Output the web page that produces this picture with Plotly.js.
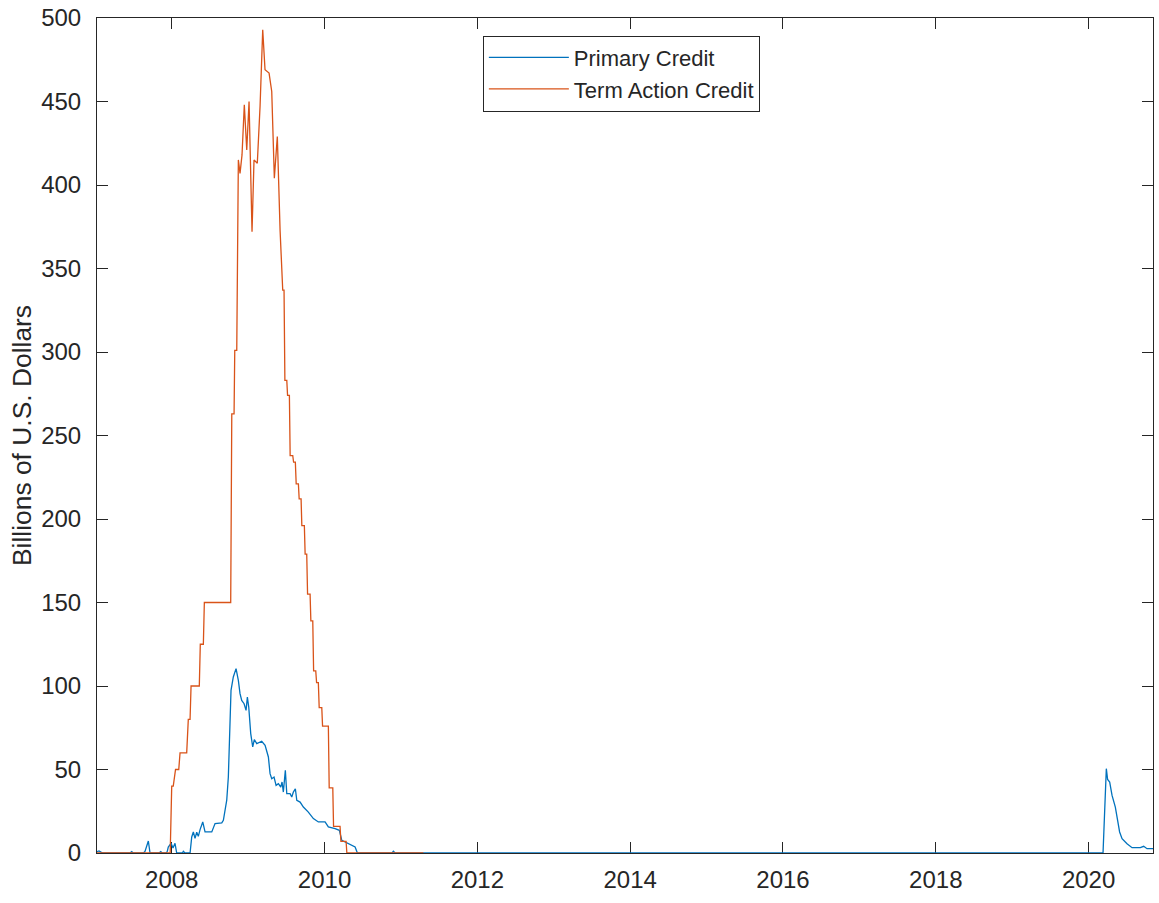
<!DOCTYPE html>
<html>
<head>
<meta charset="utf-8">
<script src="https://cdn.plot.ly/plotly-3.0.1.min.js"></script>
<style>
  html, body { margin: 0; padding: 0; background: #ffffff; }
  #chart { width: 1159px; height: 903px; }
</style>
</head>
<body>
<div id="chart"></div>
<script>
// ---- Data (decimal years, billions of U.S. dollars) ----
const seriesNames = ["Primary Credit", "Term Action Credit"];

const primaryYears = [
  2007.022, 2007.048, 2007.074, 2007.101,
  2007.454, 2007.476, 2007.498,
  2007.630, 2007.650, 2007.694, 2007.716,
  2007.834, 2007.856, 2007.878,
  2007.930, 2007.942, 2007.955, 2007.991, 2008.017, 2008.043, 2008.065,
  2008.140, 2008.152, 2008.174,
  2008.240, 2008.262, 2008.283, 2008.305, 2008.327, 2008.348, 2008.371, 2008.406, 2008.436, 2008.524,
  2008.567, 2008.655, 2008.676, 2008.720, 2008.741, 2008.763, 2008.776, 2008.806, 2008.842, 2008.872,
  2008.894, 2008.916, 2008.947, 2008.973, 2008.990, 2009.008, 2009.034, 2009.060, 2009.081, 2009.113,
  2009.178, 2009.222, 2009.265, 2009.287, 2009.309, 2009.339, 2009.366, 2009.396, 2009.427, 2009.444,
  2009.461, 2009.487, 2009.506, 2009.549, 2009.571, 2009.592, 2009.618, 2009.637, 2009.680, 2009.723,
  2009.788, 2009.854, 2009.919, 2010.007, 2010.050, 2010.138, 2010.194, 2010.226, 2010.291, 2010.357,
  2010.400, 2010.430, 2010.884, 2010.901, 2010.924,
  2020.189, 2020.232, 2020.249, 2020.276, 2020.307, 2020.350, 2020.380, 2020.406, 2020.438, 2020.503,
  2020.569, 2020.677, 2020.721, 2020.765, 2020.843
];
const primaryValues = [
  0.8, 1.2, 0.5, 0,
  0, 0.8, 0,
  0, 1, 7.2, 0,
  0, 0.8, 0,
  0, 1, 3.6, 5.8, 3, 5.8, 0,
  0, 1, 0,
  0, 9.6, 12.6, 8.8, 12.4, 10, 14, 18.6, 12.6, 12.6,
  17.6, 18, 19.6, 31.6, 45.5, 71.5, 97.4, 105.4, 110.4, 103.4,
  95.4, 91.4, 89.4, 85.4, 93.4, 87.4, 71.5, 63.5, 67.9, 65.5,
  66.9, 64.5, 57.5, 47.5, 44.5, 45.5, 40.5, 41.5, 39.5, 42.5,
  36.5, 49.5, 35.5, 35.5, 33.5, 36.5, 38.5, 31.6, 30.5, 27.5,
  24.5, 20.6, 18.6, 18.6, 15.6, 14.6, 13.6, 7.6, 6, 4.6,
  3.6, 0, 0, 1, 0,
  0, 50.5, 44, 42.5, 34.5, 27.5, 19.6, 12.6, 8.6, 5.6,
  3.2, 3.2, 4, 2.6, 2.6
];

const termYears = [
  2007.022, 2007.980, 2008.000, 2008.020, 2008.050, 2008.092, 2008.109, 2008.196, 2008.217, 2008.240,
  2008.253, 2008.361, 2008.374, 2008.414, 2008.427, 2008.772, 2008.786, 2008.816, 2008.825, 2008.851,
  2008.872, 2008.894, 2008.920, 2008.950, 2008.982, 2009.012, 2009.051, 2009.077, 2009.120, 2009.156,
  2009.191, 2009.221, 2009.274, 2009.309, 2009.343, 2009.382, 2009.418, 2009.453, 2009.470, 2009.481,
  2009.506, 2009.516, 2009.540, 2009.550, 2009.584, 2009.595, 2009.618, 2009.629, 2009.658, 2009.668,
  2009.693, 2009.703, 2009.736, 2009.746, 2009.767, 2009.778, 2009.811, 2009.821, 2009.846, 2009.857,
  2009.885, 2009.896, 2009.919, 2009.930, 2009.964, 2009.974, 2010.050, 2010.061, 2010.108, 2010.118,
  2010.203, 2010.214, 2010.282, 2010.292, 2011.294
];
const termValues = [
  0, 0, 40, 40, 50, 50, 60, 60, 80, 80,
  100, 100, 125, 125, 150, 150, 263, 263, 301, 301,
  415, 407, 418, 448, 421, 450, 372, 415, 413, 447,
  493, 469, 467, 456, 404, 429, 373, 337, 337, 283,
  283, 274, 274, 238, 238, 234, 234, 221, 221, 212,
  212, 196, 196, 179, 179, 155, 155, 139, 139, 109,
  109, 102, 102, 87, 87, 76, 76, 39, 39, 16,
  16, 7, 7, 0, 0
];

const yearTicks = [2008, 2010, 2012, 2014, 2016, 2018, 2020];
const yearTickLabels = ["2008", "2010", "2012", "2014", "2016", "2018", "2020"];
const valueTicks = [0, 50, 100, 150, 200, 250, 300, 350, 400, 450, 500];
const valueTickLabels = ["0", "50", "100", "150", "200", "250", "300", "350", "400", "450", "500"];

const xRange = [2007.022, 2020.843];
const yRange = [0, 500];
const yTitle = "Billions of U.S. Dollars";

// ---- Styling ----
const FONT = "'Liberation Sans', Arial, Helvetica, sans-serif";
const TEXT = "#262626";
const AXIS = "#262626";

const traces = [
  {
    x: primaryYears, y: primaryValues, name: seriesNames[0],
    type: "scatter", mode: "lines",
    line: { color: "#0072BD", width: 1.3 }
  },
  {
    x: termYears, y: termValues, name: seriesNames[1],
    type: "scatter", mode: "lines",
    line: { color: "#D95319", width: 1.3 }
  }
];

const axisCommon = {
  showgrid: false,
  zeroline: false,
  showline: true,
  linecolor: AXIS,
  linewidth: 1,
  mirror: "ticks",
  ticks: "inside",
  ticklen: 11,
  tickwidth: 1,
  tickcolor: AXIS,
  tickfont: { family: FONT, size: 24, color: TEXT },
  layer: "below traces",
  fixedrange: true
};

const layout = {
  width: 1159,
  height: 903,
  margin: { l: 97, r: 6.3, t: 17.5, b: 50.3, pad: 0 },
  paper_bgcolor: "#ffffff",
  plot_bgcolor: "#ffffff",
  showlegend: true,
  xaxis: Object.assign({}, axisCommon, {
    type: "linear",
    range: xRange,
    tickmode: "array",
    tickvals: yearTicks,
    ticktext: yearTickLabels,
    ticklabelstandoff: 5
  }),
  yaxis: Object.assign({}, axisCommon, {
    range: yRange,
    tickmode: "array",
    tickvals: valueTicks,
    ticktext: valueTickLabels,
    ticklabelstandoff: 10,
    title: { text: yTitle, font: { family: FONT, size: 26.4, color: TEXT }, standoff: 1 }
  }),
  legend: {
    x: 0.3654, y: 0.979, xanchor: "left", yanchor: "top",
    bgcolor: "#ffffff",
    bordercolor: AXIS,
    borderwidth: 1,
    font: { family: FONT, size: 22, color: TEXT },
    itemwidth: 80,
    tracegroupgap: 0
  }
};

Plotly.newPlot("chart", traces, layout, { staticPlot: true, displayModeBar: false });
</script>
</body>
</html>
